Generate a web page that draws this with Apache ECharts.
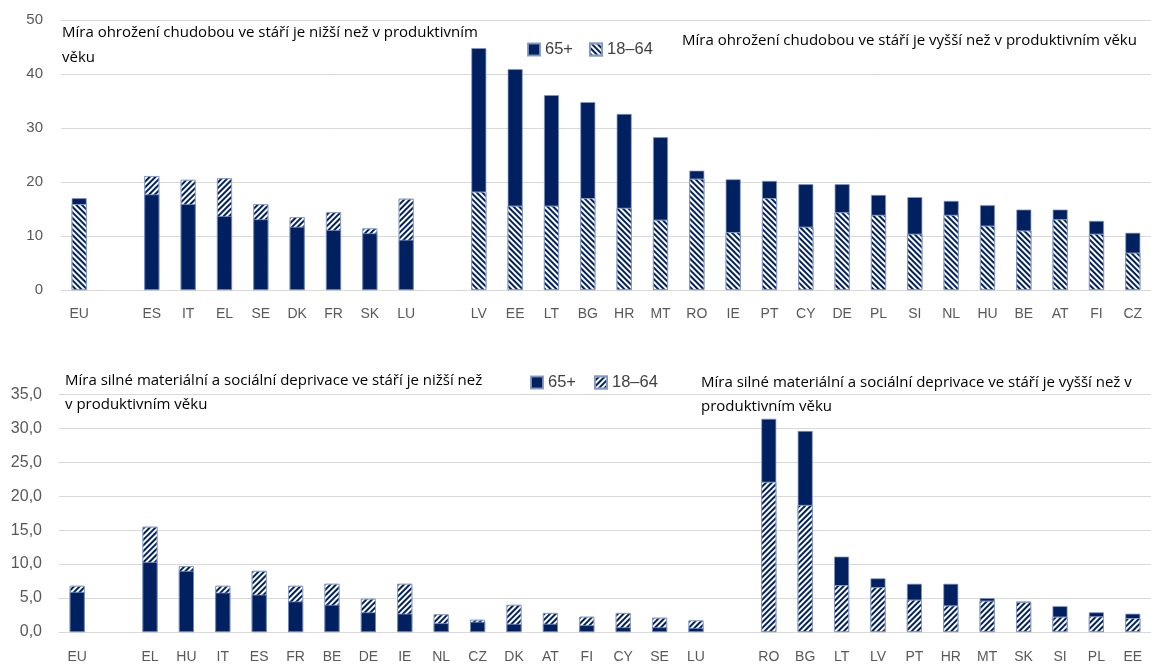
<!DOCTYPE html>
<html>
<head>
<meta charset="utf-8">
<script src="https://cdn.jsdelivr.net/npm/echarts@6/dist/echarts.min.js"></script>
<style>
html,body{margin:0;padding:0;background:#fff;}
#chart{width:1151px;height:664px;}
</style>
</head>
<body>
<div id="chart"></div>
<script>
// ---- Top panel: míra ohrožení chudobou ----
const topCats = ['EU','','ES','IT','EL','SE','DK','FR','SK','LU','','LV','EE','LT','BG','HR','MT','RO','IE','PT','CY','DE','PL','SI','NL','HU','BE','AT','FI','CZ'];
const top65   = [17.0,null,17.7,15.9,13.7,13.1,11.7,11.1,10.5,9.3,null,44.8,40.9,36.1,34.8,32.6,28.3,22.1,20.5,20.2,19.6,19.6,17.6,17.2,16.5,15.7,14.9,14.9,12.8,10.6];
const top1864 = [15.9,null,21.1,20.4,20.7,15.9,13.5,14.4,11.4,16.9,null,18.2,15.6,15.6,17.0,15.2,13.0,20.6,10.7,17.0,11.7,14.4,13.9,10.4,13.9,11.9,11.0,13.1,10.4,6.9];
const topTicks = [0,10,20,30,40,50];

// ---- Bottom panel: míra silné materiální a sociální deprivace ----
const botCats = ['EU','','EL','HU','IT','ES','FR','BE','DE','IE','NL','CZ','DK','AT','FI','CY','SE','LU','','RO','BG','LT','LV','PT','HR','MT','SK','SI','PL','EE'];
const bot65   = [5.9,null,10.3,9.0,5.8,5.5,4.5,4.0,2.9,2.7,1.3,1.5,1.2,1.2,1.0,0.7,0.7,0.6,null,31.4,29.6,11.1,7.9,7.1,7.1,5.0,4.5,3.8,2.9,2.7];
const bot1864 = [6.8,null,15.5,9.7,6.8,9.0,6.8,7.1,4.9,7.1,2.6,1.8,4.0,2.8,2.25,2.8,2.1,1.7,null,22.1,18.7,6.9,6.6,4.75,3.9,4.6,4.4,2.25,2.3,2.05];
const botTicks = [0,5,10,15,20,25,30,35];

const seriesNames = ['65+','18–64'];
const texts = {
  topLeft: ['Míra ohrožení chudobou ve stáří je nižší než v produktivním','věku'],
  topRight: ['Míra ohrožení chudobou ve stáří je vyšší než v produktivním věku'],
  botLeft: ['Míra silné materiální a sociální deprivace ve stáří je nižší než','v produktivním věku'],
  botRight: ['Míra silné materiální a sociální deprivace ve stáří je vyšší než v','produktivním věku']
};

const NAVY = '#002060';
const FONT = 'Liberation Sans';
const NOTE_FONT = '15px "Open Sans"';
const hatchBack = {symbol:'rect', symbolSize:1, dashArrayX:[1,0], dashArrayY:[2,2], rotation: Math.PI/4, color:'#ffffff'};
const hatchFwd  = {symbol:'rect', symbolSize:1, dashArrayX:[1,0], dashArrayY:[2,2], rotation: -Math.PI/4, color:'#ffffff'};
const EDGE = {borderColor:'rgba(130,150,195,0.9)', borderWidth:0.8};

function pick(a, b, cond){ return a.map((v,i)=> (v==null||b[i]==null) ? '-' : (cond(v,b[i]) ? v : '-')); }

function panelSeries(idx, v65, v18, frontDecal, backDecal){
  const common = {type:'bar', xAxisIndex:idx, yAxisIndex:idx, barWidth:15, barGap:'-100%', animation:false,
    emphasis:{disabled:true}};
  return [
    Object.assign({}, common, {name:'65+', z:2, data: pick(v65, v18, (a,b)=>a>=b), itemStyle:Object.assign({color:NAVY}, EDGE)}),
    Object.assign({}, common, {name:'18–64', z:2, data: pick(v18, v65, (a,b)=>a>b), itemStyle:Object.assign({color:NAVY, decal:backDecal}, EDGE)}),
    Object.assign({}, common, {name:'65+', z:3, data: pick(v65, v18, (a,b)=>a<b), itemStyle:Object.assign({color:NAVY}, EDGE)}),
    Object.assign({}, common, {name:'18–64', z:3, data: pick(v18, v65, (a,b)=>a<=b), itemStyle:Object.assign({color:NAVY, decal:frontDecal}, EDGE)})
  ];
}

function textEls(lines, x, y, lh){
  return lines.map((t,i)=>({type:'text', x:x, y:y+i*lh, z:10,
    style:{text:t, fill:'#000', font:NOTE_FONT, verticalAlign:'middle', align:'left'}}));
}

const xLabel = {color:'#595959', fontSize:14, fontFamily:FONT};

const option = {
  backgroundColor:'#fff',
  animation:false,
  grid:[
    {left:61, right:-8, top:20, height:270},
    {left:59, right:-7, top:394.3, height:238}
  ],
  xAxis:[
    {type:'category', gridIndex:0, data:topCats, axisTick:{show:false}, axisLine:{lineStyle:{color:'#d9d9d9'}},
     axisLabel:Object.assign({margin:17, interval:0}, xLabel)},
    {type:'category', gridIndex:1, data:botCats, axisTick:{show:false}, axisLine:{lineStyle:{color:'#d9d9d9'}},
     axisLabel:Object.assign({margin:18, interval:0}, xLabel)}
  ],
  yAxis:[
    {type:'value', gridIndex:0, min:topTicks[0], max:topTicks[topTicks.length-1], interval:10,
     splitLine:{lineStyle:{color:'#d9d9d9'}}, axisLabel:{margin:18, color:'#595959', fontSize:15, fontFamily:FONT}},
    {type:'value', gridIndex:1, min:botTicks[0], max:botTicks[botTicks.length-1], interval:5,
     splitLine:{lineStyle:{color:'#d9d9d9'}},
     axisLabel:{margin:17, color:'#595959', fontSize:16, fontFamily:FONT, formatter:v=>v.toFixed(1).replace('.',',')}}
  ],
  legend:[
    {left:527, top:41, padding:0, itemWidth:12, itemHeight:12, itemGap:16, icon:'rect',
     textStyle:{fontSize:16.5, fontFamily:FONT, color:'#404040'},
     data:[{name:seriesNames[0], itemStyle:{color:NAVY}}, {name:seriesNames[1], itemStyle:{color:NAVY, decal:hatchBack}}]},
    {left:530, top:374, padding:0, itemWidth:12, itemHeight:12, itemGap:18, icon:'rect',
     textStyle:{fontSize:16.5, fontFamily:FONT, color:'#404040'},
     data:[{name:seriesNames[0], itemStyle:{color:NAVY}}, {name:seriesNames[1], itemStyle:{color:NAVY, decal:hatchFwd}}]}
  ],
  series:[].concat(
    panelSeries(0, top65, top1864, hatchBack, hatchFwd),
    panelSeries(1, bot65, bot1864, hatchFwd, hatchFwd)
  ),
  graphic:[].concat(
    textEls(texts.topLeft, 62, 33, 25),
    textEls(texts.topRight, 682, 40.5, 25),
    textEls(texts.botLeft, 65, 381, 24),
    textEls(texts.botRight, 701, 383, 24)
  )
};

const chart = echarts.init(document.getElementById('chart'), null, {renderer:'canvas'});
chart.setOption(option);
</script>
</body>
</html>
